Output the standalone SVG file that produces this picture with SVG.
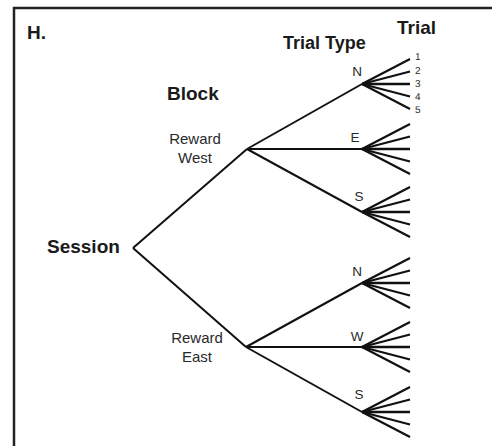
<svg xmlns="http://www.w3.org/2000/svg" width="492" height="446" viewBox="0 0 492 446">
<style>
.frame{stroke:#222;stroke-width:2.5;fill:none}
.br{stroke:#111;stroke-width:2;fill:none;stroke-linecap:butt}
.lf{stroke:#111;stroke-width:2.3;fill:none}
.hd{font-family:"Liberation Sans",Arial,sans-serif;font-weight:bold;font-size:19px;fill:#1a1a1a}
.lb{font-family:"Liberation Sans",Arial,sans-serif;font-size:15px;fill:#2a2a2a;text-anchor:middle}
.tt{font-family:"Liberation Sans",Arial,sans-serif;font-size:13.5px;fill:#2a2a2a;text-anchor:middle}
.num{font-family:"Liberation Sans",Arial,sans-serif;font-size:10px;fill:#2a2a2a;text-rendering:geometricPrecision}
</style>
<defs>
<g id="fan">
<line class="lf" x1="0" y1="0" x2="48" y2="-25"/>
<line class="lf" x1="0" y1="0" x2="48" y2="-12.5"/>
<line class="lf" x1="0" y1="0" x2="48" y2="0"/>
<line class="lf" x1="0" y1="0" x2="48" y2="12.5"/>
<line class="lf" x1="0" y1="0" x2="48" y2="25"/>
</g>
</defs>
<rect width="492" height="446" fill="#fff"/>
<path class="frame" d="M14,446 V8 H492"/>
<text class="hd" x="27" y="39">H.</text>
<text class="hd" x="283" y="49" style="font-size:18px">Trial Type</text>
<text class="hd" x="397" y="34">Trial</text>
<text class="hd" x="167" y="100">Block</text>
<g id="connectors">
<line class="br" x1="133" y1="248" x2="247" y2="149"/>
<line class="br" x1="133" y1="248" x2="246" y2="347"/>
<line class="br" x1="247" y1="149" x2="362" y2="84"/>
<line class="br" x1="247" y1="149" x2="362" y2="149"/>
<line class="br" x1="247" y1="149" x2="362" y2="212"/>
<line class="br" x1="246" y1="347" x2="362" y2="283"/>
<line class="br" x1="246" y1="347" x2="362" y2="347"/>
<line class="br" x1="246" y1="347" x2="362" y2="412"/>
<use href="#fan" x="362" y="84"/>
<use href="#fan" x="362" y="149"/>
<use href="#fan" x="362" y="212"/>
<use href="#fan" x="362" y="283"/>
<use href="#fan" x="362" y="347"/>
<use href="#fan" x="362" y="412"/>
</g>
<g id="session"><text class="hd" x="47" y="253">Session</text></g>
<g id="reward-west"><text class="lb" x="195" y="144">Reward</text><text class="lb" x="195" y="163">West</text></g>
<g id="reward-east"><text class="lb" x="197" y="343">Reward</text><text class="lb" x="197" y="362">East</text></g>
<g id="tt-n1"><text class="tt" x="357" y="76">N</text></g>
<g id="tt-e"><text class="tt" x="355" y="142">E</text></g>
<g id="tt-s1"><text class="tt" x="359" y="201">S</text></g>
<g id="tt-n2"><text class="tt" x="357" y="276">N</text></g>
<g id="tt-w"><text class="tt" x="357" y="341">W</text></g>
<g id="tt-s2"><text class="tt" x="359" y="399">S</text></g>
<g id="trials">
<text class="num" x="415" y="60">1</text>
<text class="num" x="415" y="74">2</text>
<text class="num" x="415" y="87">3</text>
<text class="num" x="415" y="100">4</text>
<text class="num" x="415" y="113">5</text>
</g>
</svg>
